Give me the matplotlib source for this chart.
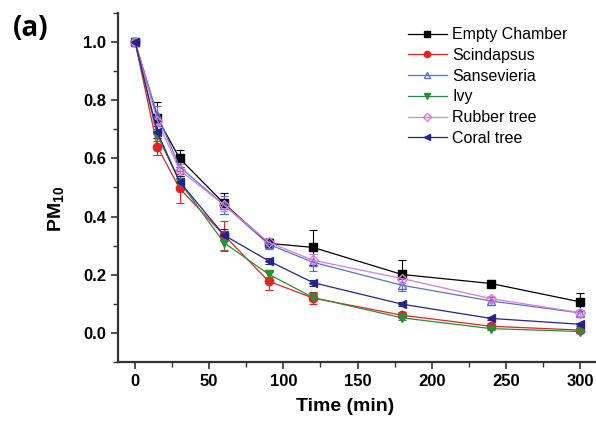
import matplotlib
matplotlib.use("Agg")
import matplotlib.pyplot as plt
from matplotlib.ticker import MultipleLocator

plt.rcParams['font.family'] = ['Liberation Sans', 'DejaVu Sans']
plt.rcParams['mathtext.fontset'] = 'custom'
plt.rcParams['mathtext.bf'] = 'Liberation Sans:bold'
plt.rcParams['mathtext.rm'] = 'Liberation Sans'

time_min = [0, 15, 30, 60, 90, 120, 180, 240, 300]

empty_chamber = [1.0, 0.74, 0.60, 0.445, 0.308, 0.294, 0.201, 0.170, 0.107]
scindapsus = [1.0, 0.64, 0.497, 0.336, 0.178, 0.120, 0.061, 0.023, 0.010]
sansevieria = [1.0, 0.75, 0.571, 0.44, 0.305, 0.243, 0.164, 0.110, 0.069]
ivy = [1.0, 0.68, 0.52, 0.31, 0.202, 0.122, 0.052, 0.015, 0.005]
rubber_tree = [1.0, 0.73, 0.56, 0.44, 0.312, 0.250, 0.187, 0.118, 0.070]
coral_tree = [1.0, 0.69, 0.52, 0.336, 0.248, 0.173, 0.099, 0.050, 0.030]

empty_err = [0.0, 0.055, 0.03, 0.035, 0.015, 0.06, 0.05, 0.012, 0.03]
scindapsus_err = [0.0, 0.03, 0.05, 0.05, 0.03, 0.02, 0.01, 0.008, 0.005]
sansevieria_err = [0.0, 0.03, 0.03, 0.03, 0.015, 0.03, 0.02, 0.015, 0.01]
ivy_err = [0.0, 0.02, 0.02, 0.03, 0.01, 0.01, 0.008, 0.005, 0.004]
rubber_err = [0.0, 0.02, 0.02, 0.02, 0.015, 0.02, 0.015, 0.01, 0.01]
coral_err = [0.0, 0.02, 0.02, 0.02, 0.01, 0.01, 0.008, 0.006, 0.005]

series = [
    ("Empty Chamber", empty_chamber, empty_err, "#000000", "s", "#000000"),
    ("Scindapsus", scindapsus, scindapsus_err, "#e02424", "o", "#e02424"),
    ("Sansevieria", sansevieria, sansevieria_err, "#5a6fd6", "^", "none"),
    ("Ivy", ivy, ivy_err, "#2e8b3a", "v", "#2e8b3a"),
    ("Rubber tree", rubber_tree, rubber_err, "#d67fd6", "D", "none"),
    ("Coral tree", coral_tree, coral_err, "#23238c", "<", "#23238c"),
]

fig = plt.figure(figsize=(5.96, 4.29), dpi=100)
ax = fig.add_axes([0.198, 0.156, 0.80, 0.814])

for label, vals, err, color, marker, face in series:
    ms = 5.0 if marker == "D" else 6.0
    ax.errorbar(time_min, vals, yerr=err, color=color, marker=marker,
                markerfacecolor=face, markeredgecolor=color, markersize=ms,
                linewidth=0.9, elinewidth=0.8, capsize=3, capthick=0.8,
                label=label)

ax.set_xlim(-11.5, 310)
ax.set_ylim(-0.1, 1.1)
ax.xaxis.set_major_locator(MultipleLocator(50))
ax.xaxis.set_minor_locator(MultipleLocator(25))
ax.yaxis.set_minor_locator(MultipleLocator(0.1))
ax.set_yticks([0.0, 0.2, 0.4, 0.6, 0.8, 1.0])
ax.yaxis.set_major_formatter(plt.FuncFormatter(lambda v, p: f"{v:.1f}"))

for side in ["top", "right"]:
    ax.spines[side].set_visible(False)
for side in ["left", "bottom"]:
    ax.spines[side].set_linewidth(1.6)
    ax.spines[side].set_color("#333333")

ax.tick_params(which="major", direction="out", length=5, width=1.2,
               labelsize=12, colors="#333333")
ax.tick_params(which="minor", direction="out", length=3.5, width=1.0,
               colors="#333333")
for lbl in ax.get_xticklabels() + ax.get_yticklabels():
    lbl.set_fontweight("bold")
    lbl.set_color("black")

ax.set_xlabel("Time (min)", fontsize=14, fontweight="bold")
ax.set_ylabel(r"PM$_{\mathbf{10}}$", fontsize=14, fontweight="bold")
ax.xaxis.set_label_coords((345 - 118) / 477, (362 - 398) / 349)
ax.yaxis.set_label_coords((67 - 118) / 477, (362 - 209) / 349)

handles, labels = ax.get_legend_handles_labels()
handles = [h[0] for h in handles]
leg = ax.legend(handles, labels, loc="upper left",
                bbox_to_anchor=((394 - 118) / 477, (362 - 13) / 349),
                frameon=False, fontsize=11.5, handlelength=2.4,
                labelspacing=0.36, handletextpad=0.35, markerscale=0.75)

fig.text(0.022, 0.915, "(a)", fontsize=20, fontweight="bold",
         family=["Open Sans", "DejaVu Sans"])

fig.savefig("out.png", dpi=100)
